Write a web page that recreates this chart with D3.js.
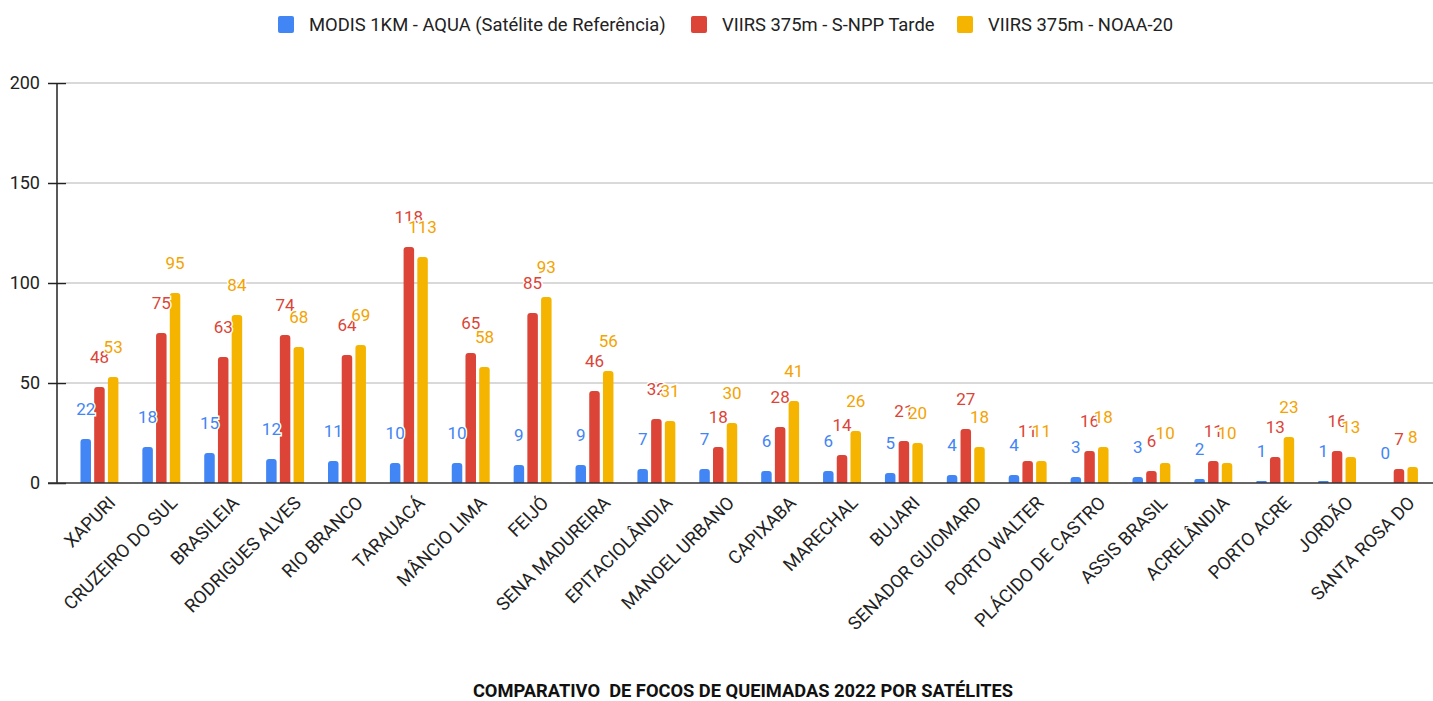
<!DOCTYPE html>
<html>
<head>
<meta charset="utf-8">
<script src="https://cdn.jsdelivr.net/npm/d3@7"></script>
<style>
  body { margin: 0; background: #fff; font-family: Roboto, "Noto Sans", sans-serif; }
  svg text { font-family: Roboto, "Noto Sans", sans-serif; }
</style>
</head>
<body>
<svg id="chart" width="1433" height="701"></svg>
<script>
// data
var municipios = ['XAPURI','CRUZEIRO DO SUL','BRASILEIA','RODRIGUES ALVES','RIO BRANCO','TARAUACÁ',
  'MÂNCIO LIMA','FEIJÓ','SENA MADUREIRA','EPITACIOLÂNDIA','MANOEL URBANO','CAPIXABA','MARECHAL',
  'BUJARI','SENADOR GUIOMARD','PORTO WALTER','PLÁCIDO DE CASTRO','ASSIS BRASIL','ACRELÂNDIA',
  'PORTO ACRE','JORDÃO','SANTA ROSA DO'];
var modis = [22,18,15,12,11,10,10,9,9,7,7,6,6,5,4,4,3,3,2,1,1,0];
var snpp  = [48,75,63,74,64,118,65,85,46,32,18,28,14,21,27,11,16,6,11,13,16,7];
var noaa  = [53,95,84,68,69,113,58,93,56,31,30,41,26,20,18,11,18,10,10,23,13,8];
var seriesNames = ['MODIS 1KM - AQUA (Satélite de Referência)','VIIRS 375m - S-NPP Tarde','VIIRS 375m - NOAA-20'];
var yTicks = [0,50,100,150,200];
var titulo = 'COMPARATIVO  DE FOCOS DE QUEIMADAS 2022 POR SATÉLITES';

var colors = ['#4285f4','#db4437','#f4b400'];
var labelColors = ['#4285f4','#db4437','#f4a300'];
var series = [modis, snpp, noaa];

var svg = d3.select('#chart');

var x = d3.scaleBand().domain(municipios).range([68.5, 1429.9]).paddingInner(0.387).paddingOuter(0.1935);
var xs = d3.scaleBand().domain([0,1,2]).range([0, x.bandwidth()]).paddingInner(0.234);
var y = d3.scaleLinear().domain([0,200]).range([483, 83]);

// gridlines
svg.append('g').selectAll('line').data(yTicks.filter(function(d){ return d > 0; })).join('line')
  .attr('x1', 66).attr('x2', 1433)
  .attr('y1', function(d){ return y(d); }).attr('y2', function(d){ return y(d); })
  .attr('stroke', '#ccc').attr('stroke-width', 1.3);

// y axis
var yAxis = svg.append('g').attr('transform', 'translate(57,0)')
  .call(d3.axisLeft(y).tickValues(yTicks).tickSize(9).tickPadding(8));
yAxis.select('.domain').remove();
yAxis.selectAll('.tick line').attr('stroke', '#222').attr('stroke-width', 1.5).attr('x2', 9).attr('x1', -9);
yAxis.selectAll('.tick text').attr('x', -17).style('font-size', '18px').attr('fill', '#222');
svg.append('line').attr('x1', 57).attr('x2', 57).attr('y1', y(200)).attr('y2', y(0))
  .attr('stroke', '#222').attr('stroke-width', 1.5);

// bars, rounded on top
function barPath(x0, w, y0, y1) {
  var r = Math.min(3, (y0 - y1) / 2, w / 2);
  if (y0 - y1 <= 0) return '';
  return 'M' + x0 + ',' + y0 + 'V' + (y1 + r) + 'Q' + x0 + ',' + y1 + ' ' + (x0 + r) + ',' + y1 +
    'H' + (x0 + w - r) + 'Q' + (x0 + w) + ',' + y1 + ' ' + (x0 + w) + ',' + (y1 + r) + 'V' + y0 + 'Z';
}

var groups = svg.append('g').selectAll('g').data(municipios).join('g')
  .attr('transform', function(d){ return 'translate(' + x(d) + ',0)'; });

groups.selectAll('path').data(function(d, i){ return series.map(function(s, k){ return {k: k, v: s[i]}; }); })
  .join('path')
  .attr('d', function(d){ return barPath(xs(d.k), xs.bandwidth(), y(0), y(d.v)); })
  .attr('fill', function(d){ return colors[d.k]; });

// baseline
svg.append('line').attr('x1', 48).attr('x2', 1433).attr('y1', y(0)).attr('y2', y(0))
  .attr('stroke', '#333').attr('stroke-width', 1.5);

// value labels (white halo like the original, so overlaps hide each other)
groups.selectAll('text.val').data(function(d, i){ return series.map(function(s, k){ return {k: k, v: s[i]}; }); })
  .join('text').attr('class', 'val')
  .attr('x', function(d){ return xs(d.k) + xs.bandwidth() / 2; })
  .attr('y', function(d){ return y(d.v) - 24; })
  .attr('text-anchor', 'middle')
  .style('font-size', '17px')
  .attr('fill', function(d){ return labelColors[d.k]; })
  .attr('stroke', '#fff').attr('stroke-width', 3).attr('paint-order', 'stroke')
  .text(function(d){ return d.v; });

// x labels
svg.append('g').selectAll('text').data(municipios).join('text')
  .attr('transform', function(d){ return 'translate(' + (x(d) + x.bandwidth() / 2 + 8) + ',' + 495 + ') rotate(-45)'; })
  .attr('text-anchor', 'end')
  .attr('dy', '0.7em')
  .style('font-size', '18.3px')
  .attr('fill', '#222')
  .text(function(d){ return d; });

// legend
var legendX = [278, 691, 957];
var legend = svg.append('g').selectAll('g').data(seriesNames).join('g')
  .attr('transform', function(d, i){ return 'translate(' + legendX[i] + ',16)'; });
legend.append('rect').attr('width', 16).attr('height', 17).attr('rx', 2)
  .attr('fill', function(d, i){ return colors[i]; });
legend.append('text').attr('x', 31).attr('y', 15).style('font-size', '18.4px').attr('fill', '#222')
  .text(function(d){ return d; });

// title
svg.append('text').attr('x', 743).attr('y', 697).attr('text-anchor', 'middle')
  .attr('xml:space', 'preserve').style('white-space', 'pre')
  .style('font-size', '18.3px').style('font-weight', 'bold').attr('fill', '#111')
  .text(titulo);
</script>
</body>
</html>
